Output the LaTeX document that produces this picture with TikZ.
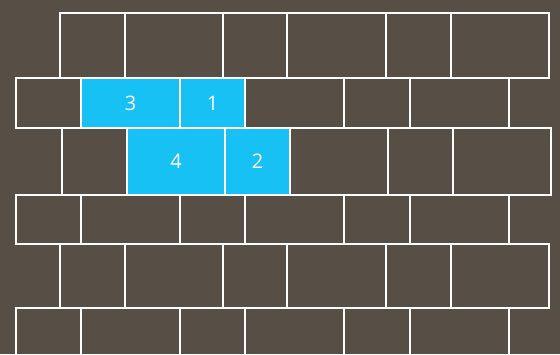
\documentclass[tikz,border=0pt]{standalone}
\usepackage{fontspec}
\setmainfont{Open Sans}
\definecolor{bgc}{HTML}{574F46}
\definecolor{hic}{HTML}{17C1F3}
\tikzset{
  brick/.style={draw=white, line width=2.4pt},
  hibrick/.style={fill=hic},
  lbl/.style={text=white, font=\fontsize{20}{20}\selectfont, inner sep=0pt}
}
\begin{document}
\begin{tikzpicture}[x=1pt,y=-1pt]
\fill[bgc] (0,0) rectangle (560,354);
\useasboundingbox (0,0) rectangle (560,354);
\begin{scope}
\clip (0,0) rectangle (560,354);
% highlighted fills
\fill[hibrick] (81,78) rectangle (180,128);
\fill[hibrick] (180,78) rectangle (245,128);
\fill[hibrick] (127,128) rectangle (225,195);
\fill[hibrick] (225,128) rectangle (290,195);
% row A
\foreach \a/\b in {60/125,125/223,223/287,287/386,386/451,451/549}
  \draw[brick] (\a,13) rectangle (\b,78);
% row B
\foreach \a/\b in {16/81,81/180,180/245,245/344,344/410,410/509}
  \draw[brick] (\a,78) rectangle (\b,128);
% row C
\foreach \a/\b in {62/127,127/225,225/290,290/388,388/453,453/551}
  \draw[brick] (\a,128) rectangle (\b,195);
% row D
\foreach \a/\b in {16/81,81/180,180/245,245/344,344/410,410/509}
  \draw[brick] (\a,195) rectangle (\b,244);
% row E
\foreach \a/\b in {60/125,125/223,223/287,287/386,386/451,451/549}
  \draw[brick] (\a,244) rectangle (\b,308);
% row F
\foreach \a/\b in {16/81,81/180,180/245,245/344,344/410,410/509}
  \draw[brick] (\a,308) rectangle (\b,370);
\end{scope}
\node[lbl] (n3) at (130.5,103) {3};
\node[lbl] (n1) at (212.5,103) {1};
\node[lbl] (n4) at (176,161.5) {4};
\node[lbl] (n2) at (257.5,161.5) {2};
\end{tikzpicture}
\end{document}
